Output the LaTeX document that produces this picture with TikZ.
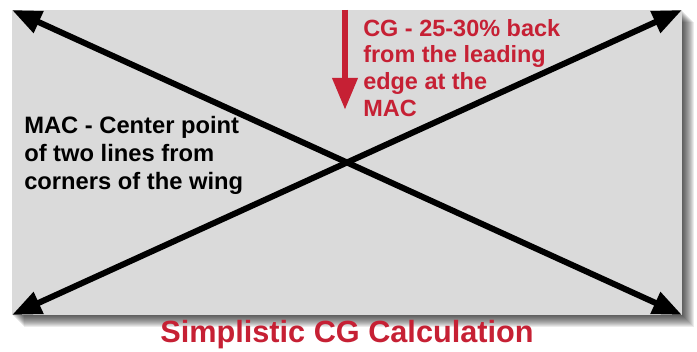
\documentclass[tikz,border=0pt]{standalone}
\usepackage{fontspec}
\setmainfont{Liberation Sans}
\usepackage{tikz}
\usetikzlibrary{arrows.meta}
\definecolor{cgred}{RGB}{198,32,52}
\definecolor{wing}{RGB}{218,218,218}

\begin{document}
\begin{tikzpicture}[x=0.75pt, y=-0.75pt, every node/.style={inner sep=0pt, font=\bfseries},
		diag/.style={line width=4.5pt, {Triangle[length=22pt,width=17pt]}-{Triangle[length=22pt,width=17pt]}}]
	\useasboundingbox (0,0) rectangle (697,352);
	% shadow of the wing
	\foreach \s in {1,...,12}
		\fill [black, opacity=0.08] (12+\s,10+\s) rectangle (682+\s,315+\s);
	\fill [wing] (12,10) rectangle (682,315);
	\coordinate (tl) at (12,10);
	\coordinate (tr) at (682,10);
	\coordinate (bl) at (12,315);
	\coordinate (br) at (682,315);
	\draw [diag] (tl) -- (br);
	\draw [diag] (bl) -- (tr);
	\coordinate (cgtop) at (345,10);
	\coordinate (cgpt) at (345,110);
	\draw [cgred, line width=5pt, -{Triangle[length=24pt,width=18pt]}] (cgtop) -- (cgpt);
	\node [cgred, anchor=north west, align=left, font=\bfseries\fontsize{17.6pt}{20pt}\selectfont] (cg) at (363,19)
		{CG - 25-30\% back\\from the leading\\edge at the\\MAC};
	\node [anchor=north west, align=left, font=\bfseries\fontsize{17.8pt}{21.2pt}\selectfont] (mac) at (24,116)
		{MAC - Center point\\of two lines from\\corners of the wing};
	\node [cgred, font=\bfseries\fontsize{23pt}{27pt}\selectfont] (title) at (347,335) {Simplistic CG Calculation};
\end{tikzpicture}
\end{document}
